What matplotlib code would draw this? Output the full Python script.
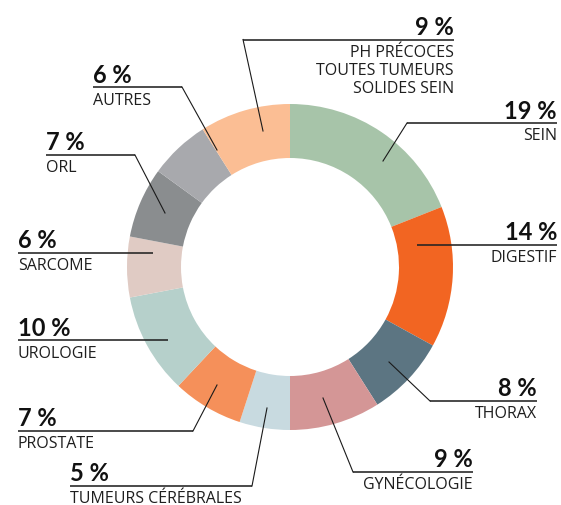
import matplotlib
matplotlib.use("Agg")
import matplotlib.pyplot as plt

W, H = 561, 506

categories = ["SEIN", "DIGESTIF", "THORAX", "GYNÉCOLOGIE", "TUMEURS CÉRÉBRALES",
              "PROSTATE", "UROLOGIE", "SARCOME", "ORL", "AUTRES",
              "PH PRÉCOCES\nTOUTES TUMEURS\nSOLIDES SEIN"]
values = [19, 14, 8, 9, 5, 7, 10, 6, 7, 6, 9]
colors = ["#a7c4a9", "#f26522", "#5c7582", "#d49696", "#c8dae0",
          "#f5905a", "#b6d0cb", "#e0cbc4", "#8a8d8f", "#a8a9ad", "#fbbe94"]

# label layout (pixel coords, y downward): side, text x, underline y, underline x range, leader end
layout = [
    dict(ha="right", x=557, uy=124, ux=(407, 557), end=(383, 162)),   # SEIN
    dict(ha="right", x=557, uy=246, ux=(417, 557), end=(417, 246)),   # DIGESTIF
    dict(ha="right", x=537, uy=402, ux=(430, 537), end=(389, 363)),   # THORAX
    dict(ha="right", x=473, uy=473, ux=(353, 473), end=(323, 399)),   # GYNECOLOGIE
    dict(ha="left", x=70, uy=487, ux=(70, 252), end=(267, 409)),      # TUMEURS
    dict(ha="left", x=18, uy=432, ux=(18, 193), end=(217, 386)),      # PROSTATE
    dict(ha="left", x=18, uy=341, ux=(18, 168), end=(168, 341)),      # UROLOGIE
    dict(ha="left", x=18, uy=254, ux=(18, 153), end=(153, 254)),      # SARCOME
    dict(ha="left", x=46, uy=156, ux=(46, 135), end=(165, 214)),      # ORL
    dict(ha="left", x=93, uy=88, ux=(93, 182), end=(217, 151)),       # AUTRES
    dict(ha="right", x=454, uy=40.5, ux=(243, 454), end=(263, 132)),  # PH PRECOCES
]

NUM_FONT = "Lato"
LBL_FONT = "Open Sans"

fig = plt.figure(figsize=(W / 100, H / 100), dpi=100)
ax = fig.add_axes([0, 0, 1, 1])

def Y(y):
    return H - y

cx, cy, R, ring = 290, 268, 163, 54
ax.pie(values, colors=colors, startangle=90, counterclock=False,
       radius=R, center=(cx, Y(cy)),
       wedgeprops=dict(width=ring, edgecolor="none", linewidth=0))

for cat, val, lay in zip(categories, values, layout):
    uy = lay["uy"]
    x0, x1 = lay["ux"]
    ax.plot([x0, x1], [Y(uy), Y(uy)], color="#222222", lw=1.15, zorder=5,
            solid_capstyle="butt")
    lx = x0 if lay["ha"] == "right" else x1
    ex, ey = lay["end"]
    if (ex, ey) != (lx, uy):
        ax.plot([lx, ex], [Y(uy), Y(ey)], color="#1a1a1a", lw=0.8, zorder=5)
    ax.text(lay["x"], Y(uy - 5.5), f"{val} %", ha=lay["ha"], va="baseline",
            fontsize=17, fontweight="bold", color="#111111", family=NUM_FONT)
    for i, line in enumerate(cat.split("\n")):
        ax.text(lay["x"], Y(uy + 16.5 + i * 18), line, ha=lay["ha"], va="baseline",
                fontsize=11.5, color="#1e1e1e", family=LBL_FONT)

ax.set_xlim(0, W)
ax.set_ylim(0, H)
ax.set_aspect("auto")
ax.axis("off")

fig.savefig("out.png", dpi=100)
